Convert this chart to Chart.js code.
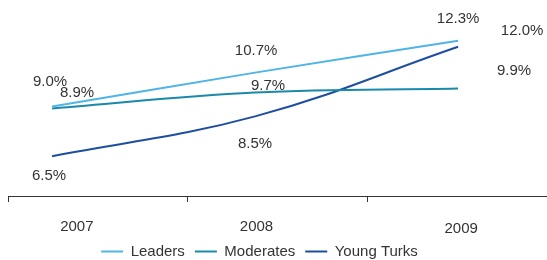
<!DOCTYPE html>
<html lang="en">
<head>
    <meta charset="UTF-8">
    <title>Growth by segment</title>
    <script src="https://cdn.jsdelivr.net/npm/chart.js"></script>
    <style>
        html, body {
            margin: 0;
            padding: 0;
            background-color: #ffffff;
        }
        .chart-box {
            width: 547px;
            height: 260px;
        }
    </style>
</head>
<body>
    <div class="chart-box">
        <canvas id="growthChart"></canvas>
    </div>

    <script>
        // data
        const years = [2007, 2008, 2009];
        const leaders = [9.0, 10.7, 12.3];
        const moderates = [8.9, 9.7, 9.9];
        const youngTurks = [6.5, 8.5, 12.0];
        const seriesNames = ['Leaders', 'Moderates', 'Young Turks'];

        // styling
        const colors = ['#4fb4e6', '#1a89aa', '#1d4ea0'];
        const textColor = '#333333';
        const fontFamily = "'Liberation Sans', Arial, sans-serif";

        // where each value label sits relative to its point (dx, dy)
        const labelOffsets = [
            [[-2, -25], [1, -22], [0, -22]],
            [[25, -16], [13, -7], [56, -18]],
            [[-3, 20], [0, 27], [64, -16]]
        ];
        // year labels: shift from the middle of each tick interval
        const yearShift = [[-21, 0], [-21, 0], [4, 2]];
        // the legend sits a little left of centre in the original
        const legendShift = -18;

        const valueLabels = {
            id: 'valueLabels',
            afterDatasetsDraw(chart) {
                const ctx = chart.ctx;
                ctx.save();
                ctx.font = '15px ' + fontFamily;
                ctx.fillStyle = textColor;
                ctx.textAlign = 'center';
                ctx.textBaseline = 'middle';
                chart.data.datasets.forEach((ds, d) => {
                    const meta = chart.getDatasetMeta(d);
                    meta.data.forEach((pt, i) => {
                        const off = labelOffsets[d][i];
                        ctx.fillText(ds.data[i].y.toFixed(1) + '%', pt.x + off[0], pt.y + off[1]);
                    });
                });
                ctx.restore();
            }
        };

        const yearLabels = {
            id: 'yearLabels',
            afterLayout(chart) {
                chart.legend.left += legendShift;
                chart.legend.right += legendShift;
            },
            afterDraw(chart) {
                const axis = chart.scales.x2;
                const ctx = chart.ctx;
                ctx.save();
                ctx.font = '15px ' + fontFamily;
                ctx.fillStyle = textColor;
                ctx.textAlign = 'center';
                ctx.textBaseline = 'middle';
                years.forEach((yr, i) => {
                    const x = axis.getPixelForValue(i + 0.5) + yearShift[i][0];
                    ctx.fillText(String(yr), x, axis.top + 31 + yearShift[i][1]);
                });
                ctx.restore();
            }
        };

        const allSeries = [leaders, moderates, youngTurks];

        const ctx = document.getElementById('growthChart').getContext('2d');
        const chart = new Chart(ctx, {
            type: 'line',
            data: {
                datasets: allSeries.map((vals, d) => ({
                    label: seriesNames[d],
                    data: years.map((yr, i) => ({ x: yr, y: vals[i] })),
                    borderColor: colors[d],
                    backgroundColor: colors[d],
                    borderWidth: 2,
                    pointRadius: 0,
                    tension: 0.4,
                    fill: false
                }))
            },
            options: {
                responsive: true,
                maintainAspectRatio: false,
                animation: false,
                layout: {
                    padding: { left: 8, right: 0, top: 0, bottom: -9 }
                },
                plugins: {
                    legend: {
                        position: 'bottom',
                        labels: {
                            color: textColor,
                            font: { family: fontFamily, size: 15 },
                            boxWidth: 22,
                            boxHeight: 2,
                            padding: 10,
                            generateLabels(chart) {
                                const items = Chart.defaults.plugins.legend.labels.generateLabels(chart);
                                items.forEach(it => {
                                    it.lineWidth = 0;
                                    it.fillStyle = it.strokeStyle;
                                });
                                return items;
                            }
                        }
                    },
                    tooltip: { enabled: false }
                },
                scales: {
                    x: {
                        type: 'linear',
                        display: false,
                        min: 2006.783,
                        max: 2009.438
                    },
                    y: {
                        display: false,
                        min: 4.5,
                        max: 14.35
                    },
                    x2: {
                        type: 'linear',
                        position: 'bottom',
                        min: 0,
                        max: 3,
                        grid: {
                            drawOnChartArea: false,
                            tickLength: 6,
                            color: '#333333'
                        },
                        border: { color: '#333333', width: 1 },
                        ticks: {
                            display: false,
                            stepSize: 1
                        },
                        afterFit(scale) {
                            scale.height = 38;
                        }
                    }
                }
            },
            plugins: [valueLabels, yearLabels]
        });
    </script>
</body>
</html>
